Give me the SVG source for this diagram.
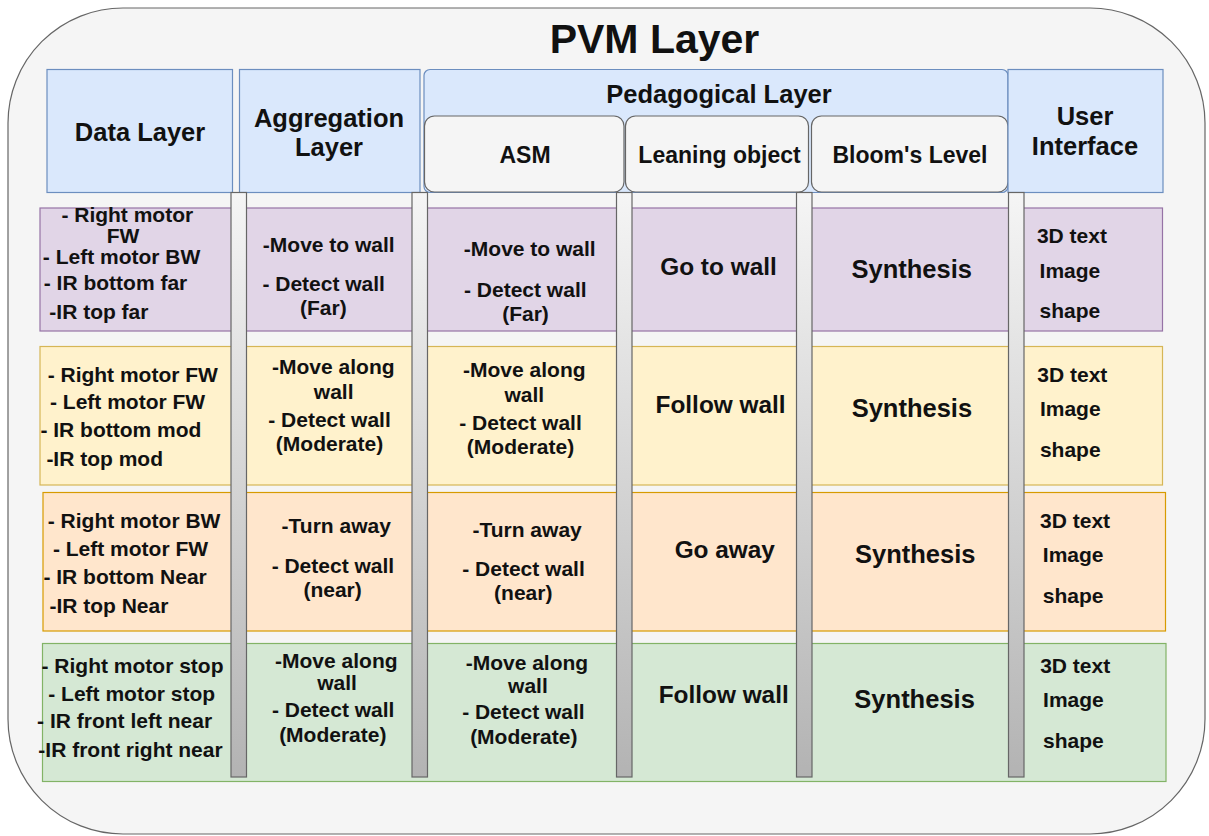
<svg xmlns="http://www.w3.org/2000/svg" width="1209" height="836" viewBox="0 0 1209 836">
  <defs>
    <linearGradient id="barFill" x1="0" y1="0" x2="0" y2="1">
      <stop offset="0" stop-color="#f5f5f5"/>
      <stop offset="1" stop-color="#b3b3b3"/>
    </linearGradient>
    <style>
      text { font-family: "Liberation Sans", Arial, Helvetica, sans-serif; font-weight: bold; fill: #111111; text-anchor: middle; }
      .title { font-size: 41px; }
      .hdr { font-size: 25.5px; }
      .sub { font-size: 23px; }
      .cell { font-size: 21px; }
      .lo { font-size: 24.4px; }
      .lvl { font-size: 25.5px; }
      .hdr-box { fill: #dae8fc; stroke: #6c8ebf; stroke-width: 1.2; }
      .sub-box { fill: #f5f5f5; stroke: #666666; stroke-width: 1.2; }
      .bar { fill: url(#barFill); stroke: #666666; stroke-width: 1.2; }
      .r-purple { fill: #e1d5e7; stroke: #9673a6; stroke-width: 1.2; }
      .r-yellow { fill: #fff2cc; stroke: #d6b656; stroke-width: 1.2; }
      .r-orange { fill: #ffe6cc; stroke: #d79b00; stroke-width: 1.2; }
      .r-green { fill: #d5e8d4; stroke: #82b366; stroke-width: 1.2; }
    </style>
  </defs>

  <!-- outer container -->
  <g id="pvm-layer">
    <rect x="8" y="8" width="1197" height="826" rx="115" ry="115" fill="#f5f5f5" stroke="#666666" stroke-width="1.2"/>
    <text class="title" x="654.5" y="53">PVM Layer</text>
  </g>

  <!-- column headers -->
  <g id="hdr-data">
    <rect class="hdr-box" x="47" y="69.5" width="185.5" height="123"/>
    <text class="hdr" x="140" y="141">Data Layer</text>
  </g>
  <g id="hdr-aggregation">
    <rect class="hdr-box" x="239.5" y="69.5" width="180.5" height="123"/>
    <text class="hdr" x="329" y="127">Aggregation</text>
    <text class="hdr" x="329" y="156">Layer</text>
  </g>
  <g id="hdr-pedagogical">
    <rect class="hdr-box" x="424" y="69.5" width="584" height="123" rx="6" ry="6"/>
    <text class="hdr" x="719" y="102.7">Pedagogical Layer</text>
  </g>
  <g id="hdr-asm">
    <rect class="sub-box" x="424.5" y="116" width="199.5" height="76" rx="10" ry="10"/>
    <text class="sub" x="525" y="163">ASM</text>
  </g>
  <g id="hdr-learning-object">
    <rect class="sub-box" x="625.5" y="116" width="183" height="76" rx="10" ry="10"/>
    <text class="sub" x="719.5" y="162.7">Leaning object</text>
  </g>
  <g id="hdr-bloom">
    <rect class="sub-box" x="811.5" y="116" width="196.5" height="76" rx="10" ry="10"/>
    <text class="sub" x="910" y="163.3">Bloom's Level</text>
  </g>
  <g id="hdr-ui">
    <rect class="hdr-box" x="1008" y="69.5" width="155" height="123"/>
    <text class="hdr" x="1085" y="125">User</text>
    <text class="hdr" x="1085" y="155">Interface</text>
  </g>

  <!-- row 1: go to wall -->
  <g id="row-go-to-wall">
    <rect class="r-purple" x="40" y="208" width="1122.5" height="123"/>
    <text class="cell" x="127.3" y="222">- Right motor</text>
    <text class="cell" x="123" y="243">FW</text>
    <text class="cell" x="121.6" y="263.5">- Left motor BW</text>
    <text class="cell" x="115.5" y="290">- IR bottom far</text>
    <text class="cell" x="98.9" y="319">-IR top far</text>
    <text class="cell" x="328.8" y="251.7">-Move to wall</text>
    <text class="cell" x="323.7" y="291">- Detect wall</text>
    <text class="cell" x="323.3" y="314.5">(Far)</text>
    <text class="cell" x="529.8" y="256">-Move to wall</text>
    <text class="cell" x="525.3" y="296.7">- Detect wall</text>
    <text class="cell" x="525.5" y="321.2">(Far)</text>
    <text class="lo" x="718.5" y="275">Go to wall</text>
    <text class="lvl" x="911.7" y="278.3">Synthesis</text>
    <text class="cell" x="1071.9" y="243.3">3D text</text>
    <text class="cell" x="1069.9" y="278">Image</text>
    <text class="cell" x="1069.9" y="318">shape</text>
  </g>

  <!-- row 2: follow wall (moderate) -->
  <g id="row-follow-wall-a">
    <rect class="r-yellow" x="40" y="346.5" width="1122.5" height="138.5"/>
    <text class="cell" x="132.8" y="381.7">- Right motor FW</text>
    <text class="cell" x="127.6" y="409.3">- Left motor FW</text>
    <text class="cell" x="120.9" y="437.3">- IR bottom mod</text>
    <text class="cell" x="104.7" y="466">-IR top mod</text>
    <text class="cell" x="333.3" y="374.3">-Move along</text>
    <text class="cell" x="333.7" y="399">wall</text>
    <text class="cell" x="329.5" y="427.3">- Detect wall</text>
    <text class="cell" x="329.5" y="451">(Moderate)</text>
    <text class="cell" x="524.3" y="377.3">-Move along</text>
    <text class="cell" x="524.3" y="402">wall</text>
    <text class="cell" x="520.5" y="430">- Detect wall</text>
    <text class="cell" x="520.5" y="454">(Moderate)</text>
    <text class="lo" x="720.6" y="412.7">Follow wall</text>
    <text class="lvl" x="911.9" y="417.3">Synthesis</text>
    <text class="cell" x="1072.3" y="382.3">3D text</text>
    <text class="cell" x="1070.3" y="415.7">Image</text>
    <text class="cell" x="1070.3" y="456.7">shape</text>
  </g>

  <!-- row 3: go away (near) -->
  <g id="row-go-away">
    <rect class="r-orange" x="43" y="492.5" width="1122.5" height="138.5"/>
    <text class="cell" x="134.1" y="528.3">- Right motor BW</text>
    <text class="cell" x="130.5" y="556">- Left motor FW</text>
    <text class="cell" x="125.1" y="584.3">- IR bottom Near</text>
    <text class="cell" x="108.9" y="613.3">-IR top Near</text>
    <text class="cell" x="336.2" y="533.3">-Turn away</text>
    <text class="cell" x="332.9" y="572.7">- Detect wall</text>
    <text class="cell" x="332.6" y="596.7">(near)</text>
    <text class="cell" x="527.1" y="536.7">-Turn away</text>
    <text class="cell" x="523.5" y="576">- Detect wall</text>
    <text class="cell" x="523.3" y="600">(near)</text>
    <text class="lo" x="724.8" y="558.3">Go away</text>
    <text class="lvl" x="915.2" y="562.7">Synthesis</text>
    <text class="cell" x="1075.1" y="528.3">3D text</text>
    <text class="cell" x="1073.2" y="561.7">Image</text>
    <text class="cell" x="1073.2" y="603.3">shape</text>
  </g>

  <!-- row 4: follow wall (front sensors) -->
  <g id="row-follow-wall-b">
    <rect class="r-green" x="42.5" y="643.5" width="1123.5" height="138"/>
    <text class="cell" x="132.5" y="673.3">- Right motor stop</text>
    <text class="cell" x="131.7" y="700.7">- Left motor stop</text>
    <text class="cell" x="124.6" y="728.3">- IR front left near</text>
    <text class="cell" x="130.5" y="756.7">-IR front right near</text>
    <text class="cell" x="336.3" y="668.3">-Move along</text>
    <text class="cell" x="337.1" y="690">wall</text>
    <text class="cell" x="333.2" y="716.7">- Detect wall</text>
    <text class="cell" x="332.8" y="741.7">(Moderate)</text>
    <text class="cell" x="526.9" y="670">-Move along</text>
    <text class="cell" x="527.9" y="692.7">wall</text>
    <text class="cell" x="523.4" y="719.3">- Detect wall</text>
    <text class="cell" x="523.8" y="744">(Moderate)</text>
    <text class="lo" x="723.7" y="703.3">Follow wall</text>
    <text class="lvl" x="914.6" y="708.3">Synthesis</text>
    <text class="cell" x="1075.2" y="673.3">3D text</text>
    <text class="cell" x="1073.4" y="707.3">Image</text>
    <text class="cell" x="1073.4" y="748.3">shape</text>
  </g>

  <!-- column dividers -->
  <g id="dividers">
    <rect class="bar" x="231" y="192.5" width="15.5" height="584.5"/>
    <rect class="bar" x="412" y="192.5" width="15.5" height="584.5"/>
    <rect class="bar" x="616.5" y="192.5" width="15.5" height="584.5"/>
    <rect class="bar" x="796.5" y="192.5" width="15.5" height="584.5"/>
    <rect class="bar" x="1008.5" y="192.5" width="15.5" height="584.5"/>
  </g>
</svg>
